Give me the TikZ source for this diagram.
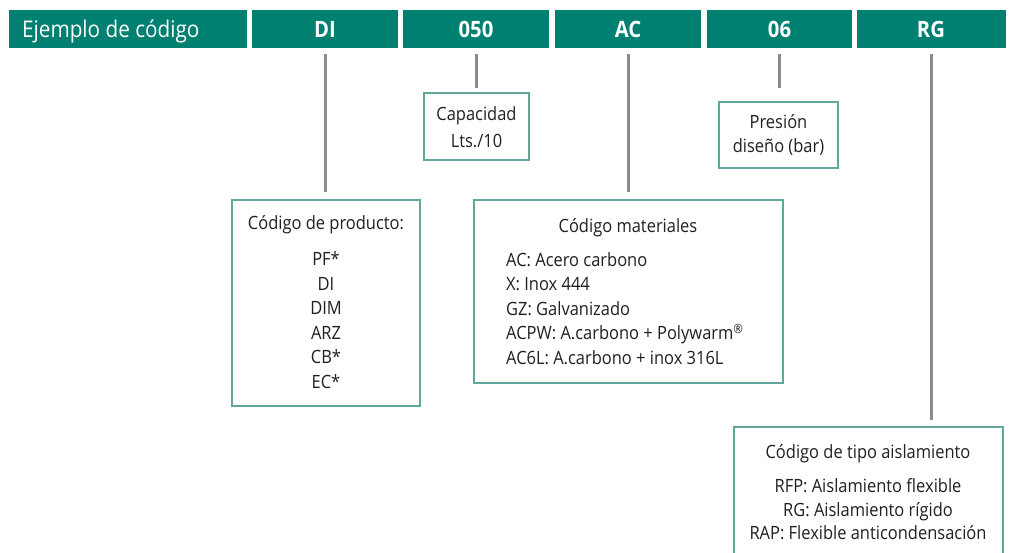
\documentclass[tikz,border=0pt]{standalone}
\usepackage{fontspec}
\setmainfont{Open Sans}[FakeStretch=0.9]
\usetikzlibrary{calc}
\definecolor{teal1}{RGB}{0,128,113}
\definecolor{boxc}{RGB}{95,168,155}
\definecolor{linec}{RGB}{140,140,140}
\definecolor{txt}{RGB}{35,31,32}
\begin{document}
\begin{tikzpicture}[x=1pt,y=-1pt,
  hcell/.style={fill=teal1, draw=none, minimum height=38pt, inner sep=0pt, outer sep=0pt},
  htext/.style={text=white, font=\fontsize{22.5}{22.5}\selectfont\bfseries, anchor=base, inner sep=0pt},
  infobox/.style={draw=boxc, line width=2.7pt, fill=white, inner sep=0pt, outer sep=0pt},
  ln/.style={text=txt, font=\fontsize{18.3}{18.3}\selectfont, anchor=base, inner sep=0pt},
  lnw/.style={ln, anchor=base west},
  conn/.style={draw=linec, line width=3pt}]
\useasboundingbox (0,0) rectangle (1013,553);
\clip (0,0) rectangle (1013,553);

% header cells
\node[hcell, minimum width=238pt] (c0) at (128,29) {};
\node[hcell, minimum width=146pt] (c1) at (325,29) {};
\node[hcell, minimum width=146pt] (c2) at (476,29) {};
\node[hcell, minimum width=146pt] (c3) at (628,29) {};
\node[hcell, minimum width=145pt] (c4) at (779.5,29) {};
\node[hcell, minimum width=149pt] (c5) at (931.5,29) {};

\node[htext, anchor=base west, font=\fontsize{23}{23}\selectfont] (t0) at (22,37.5) {Ejemplo de código};
\node[htext] (t1) at (325,37.5) {DI};
\node[htext] (t2) at (476,37.5) {050};
\node[htext] (t3) at (628,37.5) {AC};
\node[htext] (t4) at (779.5,37.5) {06};
\node[htext] (t5) at (931,37.5) {RG};

% boxes
\node[infobox, minimum width=105pt, minimum height=67pt] (cap) at (476.5,126.5) {};
\node[infobox, minimum width=119pt, minimum height=66pt] (pres) at (778.5,135) {};
\node[infobox, minimum width=188pt, minimum height=206pt] (prod) at (326,303) {};
\node[infobox, minimum width=309pt, minimum height=183pt] (mat) at (628.5,291.5) {};
\node[infobox, minimum width=269pt, minimum height=138pt] (ais) at (868.5,496) {};

% connectors
\draw[conn] ($(c1.south)+(0,6)$) -- ($(c1.south |- prod.north)+(0,-8)$);
\draw[conn] ($(c2.south)+(0,6)$) -- ($(c2.south |- cap.north)+(0,-5)$);
\draw[conn] ($(c3.south)+(0,6)$) -- ($(c3.south |- mat.north)+(0,-8)$);
\draw[conn] ($(c4.south)+(0,6)$) -- ($(c4.south |- pres.north)+(0,-14)$);
\draw[conn] ($(c5.south)+(0,6)$) -- ($(c5.south |- ais.north)+(0,-7)$);

% capacity
\node[ln] (cap1) at (476.5,121) {Capacidad};
\node[ln] (cap2) at (476.5,148) {Lts./10};
% pressure
\node[ln] (pr1) at (778.5,129) {Presión};
\node[ln] (pr2) at (778.5,153) {diseño (bar)};
% product
\node[ln] (pd0) at (326,230) {Código de producto:};
\node[ln] (pd1) at (326,266) {PF*};
\node[ln] (pd2) at (326,290.5) {DI};
\node[ln] (pd3) at (326,315) {DIM};
\node[ln] (pd4) at (326,339.5) {ARZ};
\node[ln] (pd5) at (326,364) {CB*};
\node[ln] (pd6) at (326,388.5) {EC*};
% materials
\node[ln] (m0) at (628,233) {Código materiales};
\node[lnw] (m1) at (506,266.5) {AC: Acero carbono};
\node[lnw] (m2) at (506,291) {X: Inox 444};
\node[lnw] (m3) at (506,315.5) {GZ: Galvanizado};
\node[lnw] (m4) at (506,340) {ACPW: A.carbono + Polywarm\textsuperscript{®}};
\node[lnw] (m5) at (506,364.5) {AC6L: A.carbono + inox 316L};
% insulation
\node[ln] (a0) at (868,459) {Código de tipo aislamiento};
\node[ln] (a1) at (868,492.5) {RFP: Aislamiento flexible};
\node[ln] (a2) at (868,516) {RG: Aislamiento rígido};
\node[ln] (a3) at (868,539.5) {RAP: Flexible anticondensación};
\end{tikzpicture}
\end{document}
